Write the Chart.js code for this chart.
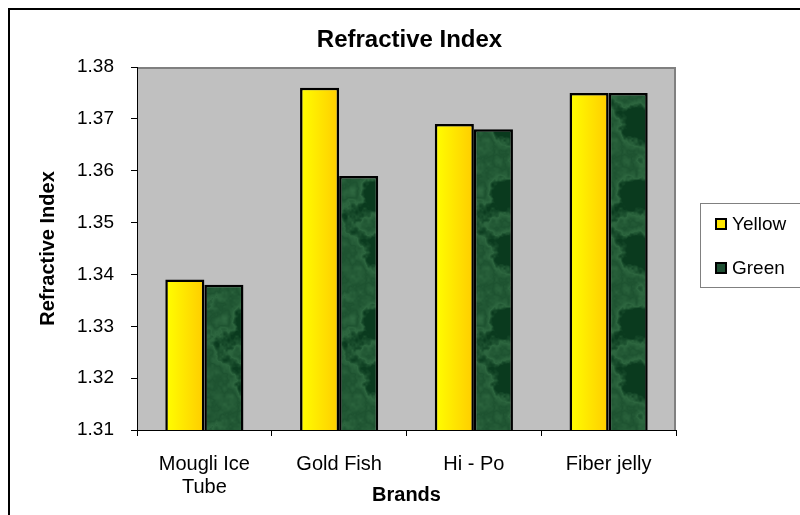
<!DOCTYPE html>
<html>
<head>
<meta charset="utf-8">
<script src="https://cdn.jsdelivr.net/npm/chart.js@4/dist/chart.umd.min.js"></script>
<style>
  html, body { margin: 0; padding: 0; background: #fff; }
  #wrap { width: 800px; height: 515px; }
</style>
</head>
<body>
<div id="wrap"><canvas id="chart" width="800" height="515"></canvas></div>
<script>
// -----------------------------
// Data
// -----------------------------
const brands = [["Mougli Ice", "Tube"], "Gold Fish", "Hi - Po", "Fiber jelly"];
const seriesNames = ["Yellow", "Green"];
const yellowValues = [1.339, 1.376, 1.369, 1.375];
const greenValues = [1.338, 1.359, 1.368, 1.375];
const yMin = 1.31, yMax = 1.38, yStep = 0.01;

const FONT = "'Liberation Sans', Arial, sans-serif";
const CAT_PCT = 0.58;

// -----------------------------
// Green marble texture (deterministic value noise)
// -----------------------------
function hash(x, y) {
  const s = Math.sin(x * 127.1 + y * 311.7) * 43758.5453;
  return s - Math.floor(s);
}
function noise(x, y, period) {
  const ix = Math.floor(x), iy = Math.floor(y);
  const fx = x - ix, fy = y - iy;
  const ux = fx * fx * (3 - 2 * fx), uy = fy * fy * (3 - 2 * fy);
  const w = (v) => ((v % period) + period) % period;
  const a = hash(w(ix), w(iy)), b = hash(w(ix + 1), w(iy));
  const c = hash(w(ix), w(iy + 1)), d = hash(w(ix + 1), w(iy + 1));
  return a + (b - a) * ux + (c - a) * uy + (a - b - c + d) * ux * uy;
}
function makeMarble() {
  const size = 128;
  const off = document.createElement("canvas");
  off.width = size; off.height = size;
  const octx = off.getContext("2d");
  const img = octx.createImageData(size, size);
  for (let y = 0; y < size; y++) {
    for (let x = 0; x < size; x++) {
      let v = 0, amp = 0.5, freq = 4, norm = 0;
      for (let o = 0; o < 5; o++) {
        v += amp * noise(x / size * freq, y / size * freq, freq);
        norm += amp; amp *= 0.55; freq *= 2;
      }
      v /= norm;
      // soft wisps: lighter where the noise crosses mid-level
      const wisp = Math.max(0, 1 - Math.abs(v - 0.52) * 9);
      let t = Math.max(0, Math.min(1, (v - 0.45) / 0.35));
      t = Math.min(1, t * 0.6 + wisp * 0.45);
      const i = (y * size + x) * 4;
      img.data[i] = 10 + t * 62;
      img.data[i + 1] = 58 + t * 78;
      img.data[i + 2] = 30 + t * 58;
      img.data[i + 3] = 255;
    }
  }
  octx.putImageData(img, 0, 0);
  return document.getElementById("chart").getContext("2d").createPattern(off, "repeat");
}
const marble = makeMarble();

// yellow bars: left-to-right gradient per bar
function yellowFill(c) {
  const chart = c.chart;
  const xs = chart.scales && chart.scales.x;
  if (!xs || c.dataIndex === undefined) return "#ffe600";
  const center = xs.getPixelForValue(c.dataIndex);
  const bw = (xs.width / brands.length) * CAT_PCT / 2;
  if (!isFinite(center) || !isFinite(bw) || bw <= 0) return "#ffe600";
  const g = chart.ctx.createLinearGradient(center - bw, 0, center, 0);
  g.addColorStop(0, "#ffff00");
  g.addColorStop(1, "#ffcc00");
  return g;
}

// -----------------------------
// Frame, title, legend
// -----------------------------
const framePlugin = {
  id: "frame",
  beforeDraw(chart) {
    const { ctx, chartArea: a } = chart;
    ctx.save();
    ctx.fillStyle = "#fff";
    ctx.fillRect(0, 0, chart.width, chart.height);
    ctx.strokeStyle = "#000";
    ctx.lineWidth = 2;
    ctx.strokeRect(9, 9, chart.width + 20, chart.height + 20);
    ctx.fillStyle = "#c0c0c0";
    ctx.fillRect(a.left, a.top, a.right - a.left, a.bottom - a.top);
    ctx.strokeStyle = "#808080";
    ctx.lineWidth = 2;
    ctx.beginPath();
    ctx.moveTo(a.left, a.top + 1);
    ctx.lineTo(a.right - 1, a.top + 1);
    ctx.lineTo(a.right - 1, a.bottom);
    ctx.stroke();
    ctx.restore();
  },
  afterDraw(chart) {
    const { ctx, chartArea: a } = chart;
    ctx.save();
    ctx.fillStyle = "#000";
    ctx.font = "bold 24px " + FONT;
    ctx.textAlign = "center";
    ctx.textBaseline = "middle";
    ctx.fillText("Refractive Index", (a.left + a.right) / 2 + 3, 40);

    // legend
    ctx.strokeStyle = "#808080";
    ctx.lineWidth = 1;
    ctx.strokeRect(700.5, 203.5, 200, 84);
    const marks = ["#ffe600", "#1f4f33"];
    ctx.font = "19px " + FONT;
    ctx.textAlign = "left";
    chart.data.datasets.forEach((ds, i) => {
      const y = 224 + i * 44;
      ctx.fillStyle = marks[i];
      ctx.fillRect(716, y - 5, 10, 10);
      ctx.strokeStyle = "#000";
      ctx.lineWidth = 2;
      ctx.strokeRect(716, y - 5, 10, 10);
      ctx.fillStyle = "#000";
      ctx.fillText(ds.label, 732, y + 1);
    });
    ctx.restore();
  }
};

// -----------------------------
// Chart
// -----------------------------
new Chart(document.getElementById("chart"), {
  type: "bar",
  data: {
    labels: brands,
    datasets: [
      { label: seriesNames[0], data: yellowValues, backgroundColor: yellowFill,
        borderColor: "#000", borderWidth: 2.5, borderSkipped: false },
      { label: seriesNames[1], data: greenValues, backgroundColor: marble,
        borderColor: "#000", borderWidth: 2.5, borderSkipped: false }
    ]
  },
  options: {
    responsive: false,
    animation: false,
    devicePixelRatio: 1,
    layout: { padding: { left: 0, right: 124, top: 67, bottom: 0 } },
    datasets: { bar: { categoryPercentage: CAT_PCT, barPercentage: 1 } },
    plugins: {
      legend: { display: false },
      title: { display: false },
      tooltip: { enabled: false }
    },
    scales: {
      x: {
        afterFit(s) { s.height = 85; },
        grid: { drawOnChartArea: false, drawTicks: true, tickLength: 6, color: "#000", lineWidth: 1 },
        border: { display: true, color: "#000", width: 1 },
        ticks: { color: "#000", padding: 17, font: { family: FONT, size: 20, lineHeight: 1.15 }, maxRotation: 0 },
        title: { display: true, text: "Brands", color: "#000", padding: { top: 0, bottom: 8 },
                 font: { family: FONT, size: 20, weight: "bold", lineHeight: 1.2 } }
      },
      y: {
        min: yMin,
        max: yMax,
        afterFit(s) { s.width = 137; },
        grid: { drawOnChartArea: false, drawTicks: true, tickLength: 6, color: "#000", lineWidth: 1 },
        border: { display: true, color: "#000", width: 1 },
        ticks: { stepSize: yStep, color: "#000", padding: 17,
                 font: { family: FONT, size: 19 },
                 callback: (v) => v.toFixed(2) },
        title: { display: true, text: "Refractive Index", color: "#000", padding: { top: 36, bottom: 0 },
                 font: { family: FONT, size: 20, weight: "bold", lineHeight: 1.2 } }
      }
    }
  },
  plugins: [framePlugin]
});
</script>
</body>
</html>
